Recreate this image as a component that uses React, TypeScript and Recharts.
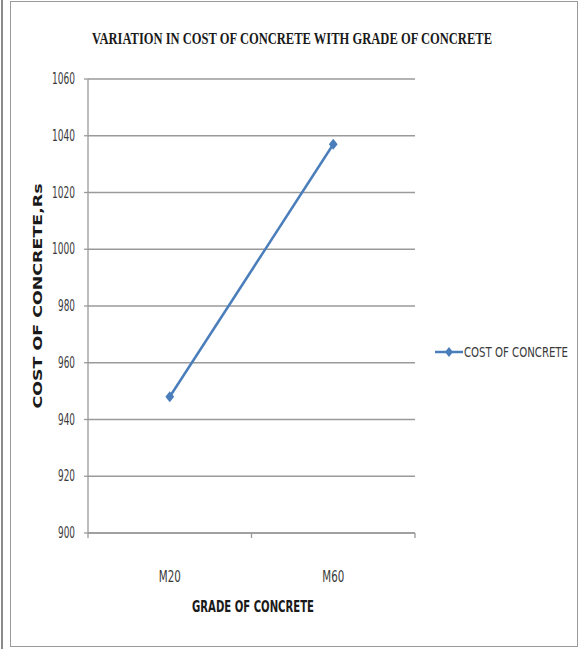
import { LineChart, Line, XAxis, YAxis, CartesianGrid, Legend } from "recharts";

const grades = ["M20", "M60"];
const costs = [948, 1037];
const yTicks = [900, 920, 940, 960, 980, 1000, 1020, 1040, 1060];
const xTicks = [0, 0.5, 1, 1.5, 2];

const LINE_COLOR = "#4a7ebb";
const GRID = "#9a9a9a";
const NARROW = "'Liberation Sans Narrow', 'DejaVu Sans Condensed', 'Arial Narrow', sans-serif";

const data = grades.map((g, i) => ({ x: i + 0.5, grade: g, cost: costs[i] }));

function Diamond(props: any) {
  const { cx, cy } = props;
  if (cx == null || cy == null) return null;
  const r = 5.5;
  return (
    <polygon
      points={`${cx},${cy - r} ${cx + r * 0.8},${cy} ${cx},${cy + r} ${cx - r * 0.8},${cy}`}
      fill={LINE_COLOR}
    />
  );
}

function XTick(props: any) {
  const { x, y, payload } = props;
  const v = payload.value;
  if (Number.isInteger(v)) {
    return <line x1={x} y1={y} x2={x} y2={y + 5} stroke={GRID} strokeWidth={1.3} />;
  }
  const label = grades[Math.floor(v)];
  return (
    <text
      x={x}
      y={y + 49}
      textAnchor="middle"
      fontFamily={NARROW}
      fontSize={15}
      fill="#3a3a3a"
      textLength={22}
      lengthAdjust="spacingAndGlyphs"
    >
      {label}
    </text>
  );
}

function YTick(props: any) {
  const { x, y, payload } = props;
  const s = String(payload.value);
  return (
    <text
      x={x - (s.length > 3 ? 23 : 17)}
      y={y + 5}
      fontFamily={NARROW}
      fontSize={15}
      fill="#3a3a3a"
      textLength={s.length > 3 ? 23 : 17}
      lengthAdjust="spacingAndGlyphs"
    >
      {s}
    </text>
  );
}

function LegendBox(props: any) {
  const item = props.payload?.[0];
  if (!item) return null;
  return (
    <svg width={150} height={22}>
      <line x1={2} y1={11} x2={30} y2={11} stroke={LINE_COLOR} strokeWidth={2.5} />
      <polygon points="16,6 20,11 16,16 12,11" fill={LINE_COLOR} />
      <text
        x={0}
        y={0}
        transform="translate(31,16) scale(1,1.15)"
        fontFamily={NARROW}
        fontSize={12}
        fill="#3a3a3a"
        textLength={104}
        lengthAdjust="spacingAndGlyphs"
      >
        {item.value}
      </text>
    </svg>
  );
}

export default function App() {
  return (
    <div style={{ position: "absolute", left: 0, top: 0, width: 587, height: 649, background: "#fff" }}>
      {/* frame */}
      <div style={{ position: "absolute", left: 1, top: 0, width: 2, height: 649, background: "#8a8a8a" }} />
      <div style={{ position: "absolute", left: 10, top: 1, width: 566, height: 644, border: "1px solid #9a9a9a" }} />

      <div style={{ position: "absolute", left: 0, top: 0 }}>
        <LineChart width={587} height={649} data={data} margin={{ top: 79, right: 172, bottom: 86, left: 28 }}>
          <CartesianGrid vertical={false} stroke={GRID} strokeWidth={1.3} />
          <XAxis
            dataKey="x"
            type="number"
            domain={[0, 2]}
            ticks={xTicks}
            height={30}
            tickSize={0}
            tickMargin={0}
            tickLine={false}
            axisLine={{ stroke: GRID, strokeWidth: 1.3 }}
            tick={<XTick />}
            interval={0}
          />
          <YAxis
            domain={[900, 1060]}
            ticks={yTicks}
            width={60}
            tickSize={4}
            tickMargin={9}
            tickLine={{ stroke: GRID, strokeWidth: 1.3 }}
            axisLine={{ stroke: GRID, strokeWidth: 1.3 }}
            tick={<YTick />}
            interval={0}
          />
          <Line
            dataKey="cost"
            name="COST OF CONCRETE"
            stroke={LINE_COLOR}
            strokeWidth={2.5}
            dot={<Diamond />}
            activeDot={false}
            isAnimationActive={false}
          />
          <Legend
            layout="horizontal"
            verticalAlign="middle"
            align="center"
            content={<LegendBox />}
            wrapperStyle={{ left: 433, top: 341, width: 150, height: 22 }}
          />
        </LineChart>
      </div>

      {/* titles */}
      <svg width={587} height={649} style={{ position: "absolute", left: 0, top: 0, pointerEvents: "none" }}>
        <text
          x={0}
          y={0}
          transform="translate(292,44) scale(1,1.13)"
          textAnchor="middle"
          fontFamily="'Liberation Serif', serif"
          fontWeight="bold"
          fontSize={15}
          fill="#1a1a1a"
          textLength={400}
          lengthAdjust="spacingAndGlyphs"
        >
          VARIATION IN COST OF CONCRETE WITH GRADE OF CONCRETE
        </text>
        <text
          x={0}
          y={0}
          transform="translate(42,296) rotate(-90)"
          textAnchor="middle"
          fontFamily="'DejaVu Sans', sans-serif"
          fontWeight="bold"
          fontSize={12}
          fill="#1a1a1a"
          textLength={225}
          lengthAdjust="spacingAndGlyphs"
        >
          COST OF CONCRETE,Rs
        </text>
        <text
          x={253}
          y={612}
          textAnchor="middle"
          fontFamily={NARROW}
          fontWeight="bold"
          fontSize={15}
          fill="#1a1a1a"
          textLength={122}
          lengthAdjust="spacingAndGlyphs"
        >
          GRADE OF CONCRETE
        </text>
      </svg>
    </div>
  );
}
